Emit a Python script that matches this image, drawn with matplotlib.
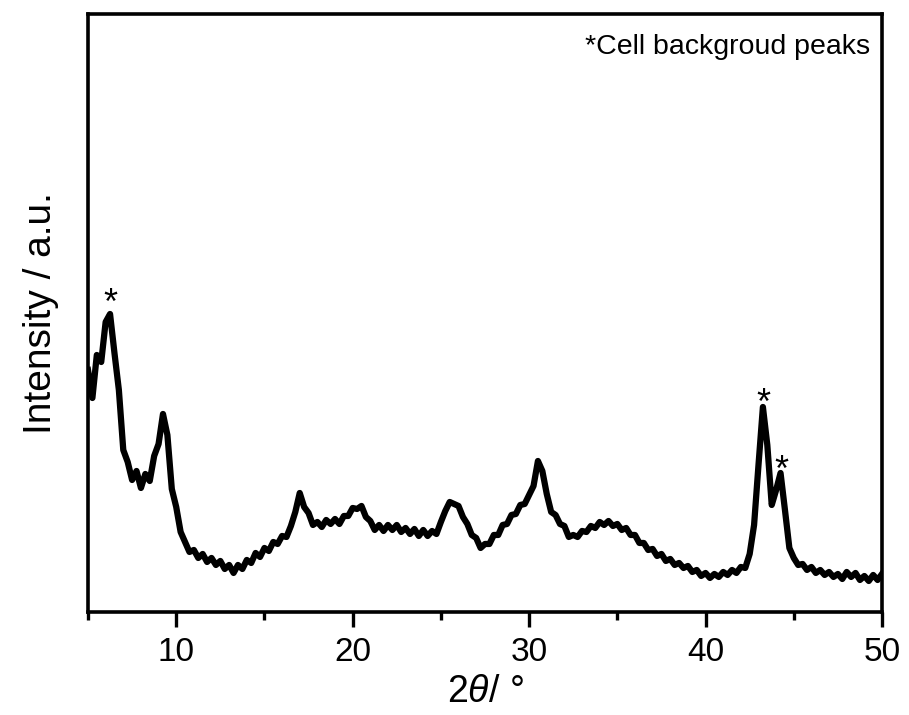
import numpy as np
import matplotlib
matplotlib.use("Agg")
import matplotlib.pyplot as plt
from matplotlib.ticker import MultipleLocator

plt.rcParams['font.family'] = ['Liberation Sans', 'DejaVu Sans']
plt.rcParams['mathtext.fontset'] = 'custom'
plt.rcParams['mathtext.it'] = 'Liberation Sans:italic'
plt.rcParams['mathtext.rm'] = 'Liberation Sans'

# =========================
# data (0.25 deg steps)
# =========================
two_theta = np.arange(5.0, 50.001, 0.25)
intensity = [
    242, 214, 257, 250, 290, 298, 259, 222, 162, 150, 132, 141, 124, 138, 131, 156,
    168, 198, 177, 123, 105, 80, 70, 60, 62, 54, 58, 50, 54, 47, 51, 43,
    47, 39, 47, 43, 52, 49, 59, 55, 64, 61, 70, 68, 76, 75, 86, 100,
    119, 105, 99, 87, 90, 85, 92, 88, 93, 88, 96, 96, 104, 103, 106, 95,
    91, 82, 87, 81, 87, 82, 87, 80, 84, 78, 83, 76, 82, 76, 81, 78,
    90, 101, 110, 108, 106, 95, 88, 77, 74, 64, 68, 68, 77, 77, 87, 88,
    97, 98, 107, 108, 117, 126, 151, 141, 118, 100, 97, 88, 86, 75, 77, 75,
    81, 80, 86, 84, 90, 87, 91, 86, 88, 82, 84, 77, 77, 69, 69, 62,
    63, 56, 58, 51, 53, 47, 49, 44, 46, 40, 42, 36, 39, 34, 38, 35,
    40, 37, 42, 39, 45, 44, 58, 87, 147, 205, 167, 107, 122, 139, 102, 64,
    54, 47, 48, 42, 45, 39, 42, 37, 40, 35, 38, 33, 40, 35, 39, 32,
    36, 31, 37, 32, 38,
]

# cell background peaks marked with a star (baseline of the '*' glyph)
star_x = [6.25, 43.3, 44.3]
star_y = [298, 198, 131]

fig = plt.figure(figsize=(9.09, 7.15), dpi=100)
ax = fig.add_axes([0.0968, 0.1441, 0.8735, 0.8363])

ax.plot(two_theta, intensity, color='black', linewidth=4.5, solid_joinstyle='round')

for sx, sy in zip(star_x, star_y):
    ax.text(sx, sy, '*', ha='center', va='baseline', fontsize=26, color='black')

ax.text(0.985, 0.945, '*Cell backgroud peaks', transform=ax.transAxes,
        ha='right', va='center', fontsize=20.5)

ax.set_xlim(5, 50)
ax.set_ylim(0, 598)
ax.xaxis.set_major_locator(MultipleLocator(10))
ax.xaxis.set_minor_locator(MultipleLocator(5))
ax.set_yticks([])

for s in ax.spines.values():
    s.set_linewidth(2.6)

ax.tick_params(axis='x', which='major', direction='out', length=11, width=2.4,
               labelsize=24, pad=7)
ax.tick_params(axis='x', which='minor', direction='out', length=6, width=2.4)

ax.set_xlabel(r'2$\theta$/ °', fontsize=27, labelpad=4)
ax.set_ylabel('Intensity / a.u.', fontsize=28, labelpad=21)

plt.savefig('out.png', dpi=100)
